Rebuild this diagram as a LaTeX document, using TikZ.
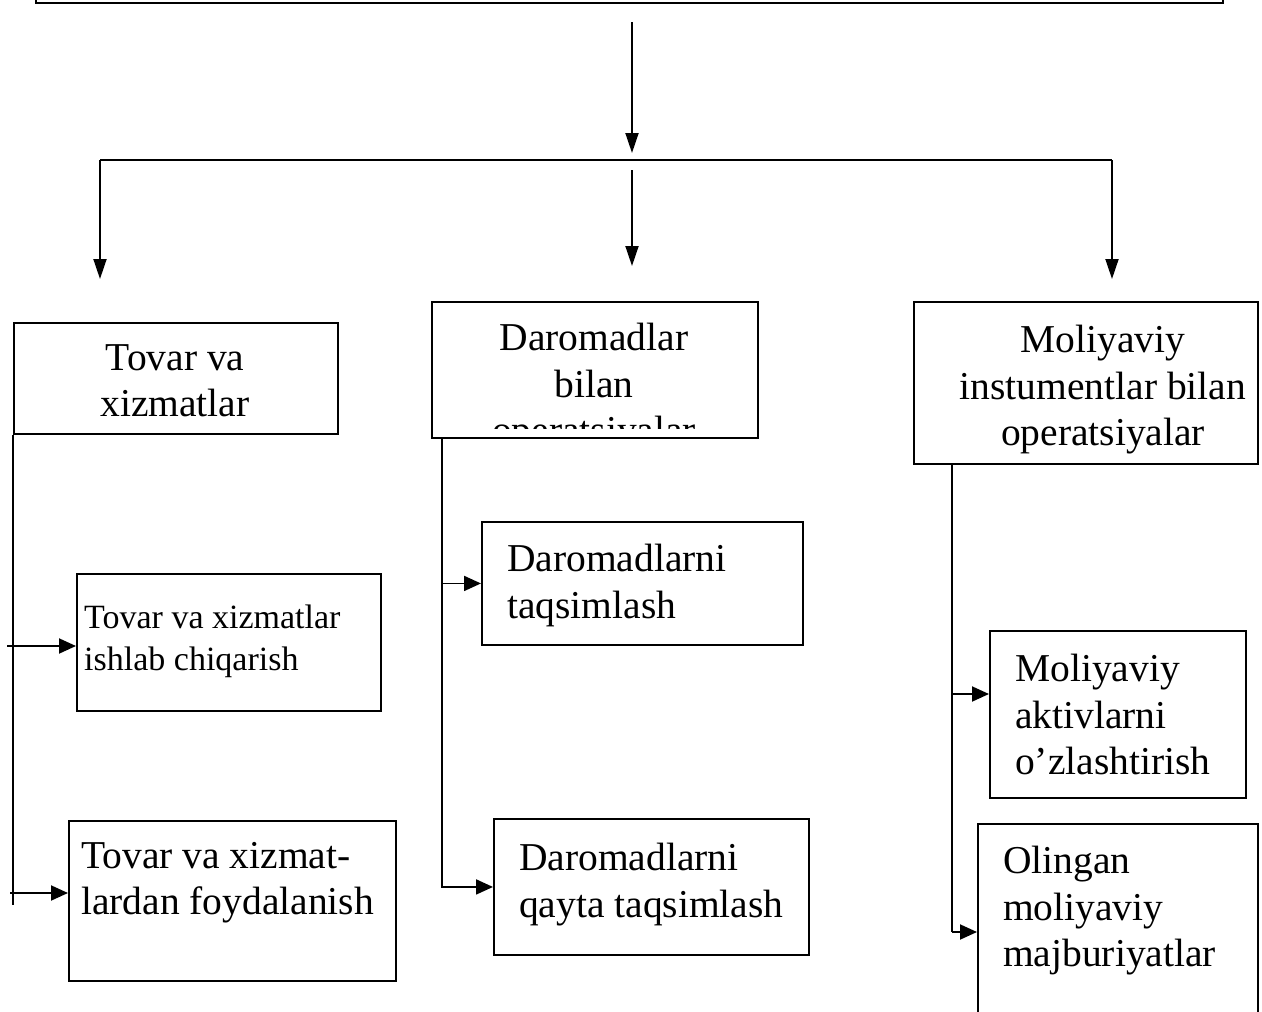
\documentclass[tikz,border=0pt]{standalone}
\usepackage{fontspec}
\setmainfont{Liberation Serif}
\usetikzlibrary{arrows.meta}
\begin{document}
\begin{tikzpicture}[x=1pt,y=-1pt,
  box/.style={draw, line width=1.9pt, inner sep=0pt, anchor=north west},
  big/.style={inner sep=0pt, font=\fontsize{39.5}{46.5}\selectfont},
  small/.style={inner sep=0pt, font=\fontsize{34}{41.5}\selectfont},
  link/.style={line width=1.9pt},
  arr/.style={link, -{Triangle[length=17pt,width=15pt]}},
  varr/.style={link, -{Triangle[length=20pt,width=13pt]}}]
\useasboundingbox (0,0) rectangle (1262,1012);
\clip (0,0) rectangle (1262,1012);

% top (cut-off) box
\node[box, minimum width=1187pt, minimum height=80pt, anchor=south west] (T) at (35,3.5) {};

% second-level boxes
\node[box, minimum width=324pt, minimum height=111pt] (A) at (13,322) {};
\node[box, minimum width=326pt, minimum height=136pt] (B) at (431,301) {};
\node[box, minimum width=344pt, minimum height=162pt] (C) at (913,301) {};

\node[big, align=center, anchor=north] (At) at (175,344) {Tovar va\\xizmatlar};
\begin{scope}
  \clip (431,301) rectangle (757,428);
  \node[big, align=center, anchor=north] (Bt) at (594,323) {Daromadlar\\bilan\\operatsiyalar};
\end{scope}
\node[big, align=center, anchor=north] (Ct) at (1103,325) {Moliyaviy\\instumentlar bilan\\operatsiyalar};

% third-level boxes
\node[box, minimum width=304pt, minimum height=137pt] (D) at (76,573) {};
\node[box, minimum width=327pt, minimum height=160pt] (E) at (68,820) {};
\node[box, minimum width=321pt, minimum height=123pt] (F) at (481,521) {};
\node[box, minimum width=315pt, minimum height=136pt] (G) at (493,818) {};
\node[box, minimum width=256pt, minimum height=167pt] (H) at (989,630) {};
\node[box, minimum width=280pt, minimum height=260pt] (I) at (977,823) {};

\node[small, align=left, anchor=north west] (Dt) at (84,605) {Tovar va xizmatlar\\ishlab chiqarish};
\node[big, align=left, anchor=north west] (Et) at (81,842) {Tovar va xizmat-\\lardan foydalanish};
\node[big, align=left, anchor=north west] (Ft) at (507,544) {Daromadlarni\\taqsimlash};
\node[big, align=left, anchor=north west] (Gt) at (519,843) {Daromadlarni\\qayta taqsimlash};
\node[big, align=left, anchor=north west] (Ht) at (1015,654) {Moliyaviy\\aktivlarni\\o’zlashtirish};
\node[big, align=left, anchor=north west] (It) at (1003,846) {Olingan\\moliyaviy\\majburiyatlar};

% top distribution
\coordinate (s0) at (632,22);
\coordinate (s1) at (632,153);
\coordinate (hl) at (100,160);
\coordinate (hr) at (1112,160);
\coordinate (m1) at (632,170);
\coordinate (m2) at (632,266);
\coordinate (l2) at (100,279);
\coordinate (r2) at (1112,279);
\draw[varr] (s0) -- (s1);
\draw[link] (hl) -- (hr);
\draw[varr] (hl) -- (l2);
\draw[varr] (hr) -- (r2);
\draw[varr] (m1) -- (m2);

% left branch
\coordinate (lb) at (13,905);
\coordinate (la) at (7,646);
\coordinate (lc) at (10,893);
\draw[link] (A.south west) -- (lb);
\draw[arr] (la) -- (la -| D.west);
\draw[arr] (lc) -- (lc -| E.west);

% middle branch
\coordinate (m0) at (442,437);
\draw[arr] (m0) |- (G.west);
\draw[arr] (m0 |- F.west) -- (F.west);

% right branch
\coordinate (r0) at (952,463);
\coordinate (rh) at (952,694);
\coordinate (ri) at (952,932);
\draw[link] (r0) -- (ri);
\draw[arr] (rh) -- (rh -| H.west);
\draw[arr] (ri) -- (ri -| I.west);
\end{tikzpicture}
\end{document}
